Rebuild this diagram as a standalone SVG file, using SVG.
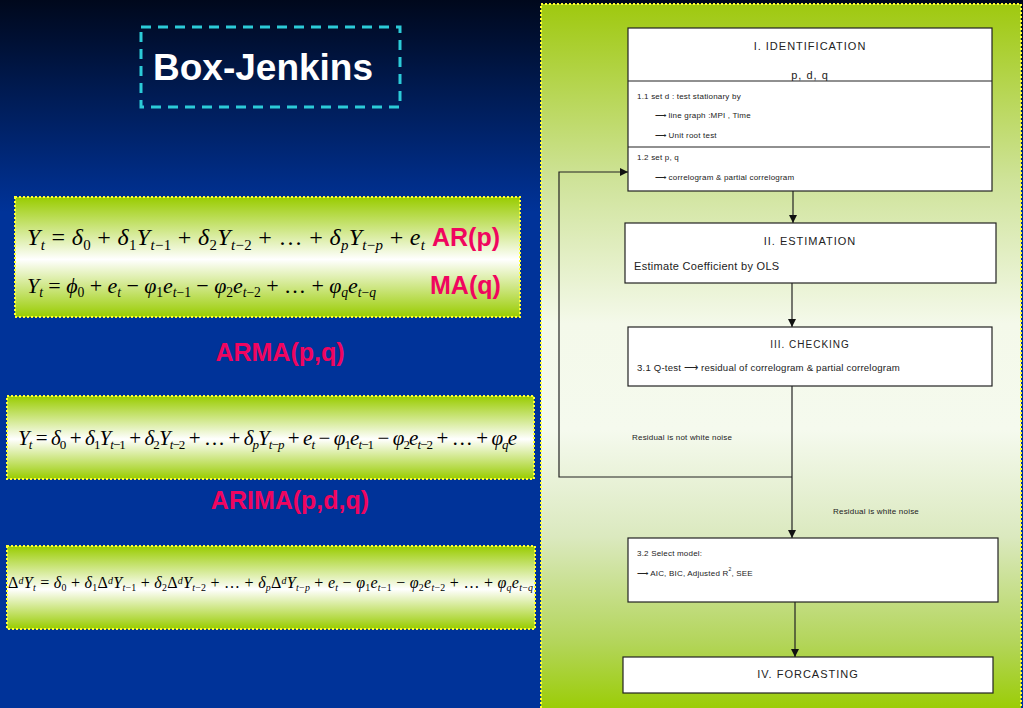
<svg xmlns="http://www.w3.org/2000/svg" width="1023" height="708" viewBox="0 0 1023 708">
<defs>
<linearGradient id="bg" x1="0" y1="0" x2="0" y2="1">
<stop offset="0" stop-color="#00081c"/>
<stop offset="0.3" stop-color="#003399"/>
<stop offset="1" stop-color="#003399"/>
</linearGradient>
<linearGradient id="pan" x1="0" y1="0" x2="0" y2="1">
<stop offset="0" stop-color="#9fc90f"/>
<stop offset="0.25" stop-color="#cfe39a"/>
<stop offset="0.45" stop-color="#f4f9ea"/>
<stop offset="0.6" stop-color="#f5faee"/>
<stop offset="0.75" stop-color="#dbe9bf"/>
<stop offset="0.9" stop-color="#b3d55a"/>
<stop offset="1" stop-color="#99cc00"/>
</linearGradient>
<linearGradient id="fb" x1="0" y1="0" x2="0" y2="1">
<stop offset="0" stop-color="#99cc00"/>
<stop offset="0.52" stop-color="#ffffff"/>
<stop offset="1" stop-color="#99cc00"/>
</linearGradient>
<marker id="ah" viewBox="0 0 8 8" refX="8" refY="4" markerWidth="8" markerHeight="8" markerUnits="userSpaceOnUse" orient="auto">
<path d="M0,0 L8,4 L0,8 Z" fill="#111"/>
</marker>
<style>
.fbox{fill:url(#fb);stroke:#ffff33;stroke-width:2;stroke-dasharray:2 2}
.m{font-family:"Liberation Serif","Times New Roman",serif;font-style:italic;fill:#000}
.u{font-style:normal}
.s{font-size:62%;baseline-shift:-32%}
.p{font-size:62%;baseline-shift:45%}
.lbl{font-family:"Liberation Sans",Arial,sans-serif;font-weight:bold;fill:#f0055f}
.node rect{fill:#fff;stroke:#222;stroke-width:1.2}
.t{font-family:"Liberation Sans",Arial,sans-serif;fill:#222}
.h{font-size:11px;letter-spacing:1px;text-anchor:middle}
.sm{font-size:8px;letter-spacing:0.2px}
.md{font-size:9.6px;letter-spacing:0.2px}
.edge{fill:none;stroke:#222;stroke-width:1.2}
</style>
</defs>
<rect width="1023" height="708" fill="url(#bg)"/>

<g id="title">
<rect x="141" y="27" width="259" height="80" fill="none" stroke="#2ccbd8" stroke-width="3" stroke-dasharray="10 7"/>
<text x="153" y="80" font-family="Liberation Sans,Arial,sans-serif" font-weight="bold" font-size="37" fill="#ffffff">Box-Jenkins</text>
</g>

<g id="formula-ar-ma">
<rect class="fbox" x="15" y="197" width="505" height="120"/>
<text class="m" x="27" y="245" font-size="24" textLength="398" lengthAdjust="spacing">Y<tspan class="s">t</tspan><tspan class="u"> = </tspan>δ<tspan class="s u">0</tspan><tspan class="u"> + </tspan>δ<tspan class="s u">1</tspan>Y<tspan class="s">t<tspan class="u">−1</tspan></tspan><tspan class="u"> + </tspan>δ<tspan class="s u">2</tspan>Y<tspan class="s">t<tspan class="u">−2</tspan></tspan><tspan class="u"> + … + </tspan>δ<tspan class="s">p</tspan>Y<tspan class="s">t<tspan class="u">−</tspan>p</tspan><tspan class="u"> + </tspan>e<tspan class="s">t</tspan></text>
<text class="lbl" x="432" y="246" font-size="25">AR(p)</text>
<text class="m" x="27" y="293" font-size="22" textLength="349" lengthAdjust="spacing">Y<tspan class="s">t</tspan><tspan class="u"> = </tspan>ϕ<tspan class="s u">0</tspan><tspan class="u"> + </tspan>e<tspan class="s">t</tspan><tspan class="u"> − </tspan>φ<tspan class="s u">1</tspan>e<tspan class="s">t<tspan class="u">−1</tspan></tspan><tspan class="u"> − </tspan>φ<tspan class="s u">2</tspan>e<tspan class="s">t<tspan class="u">−2</tspan></tspan><tspan class="u"> + … + </tspan>φ<tspan class="s">q</tspan>e<tspan class="s">t<tspan class="u">−</tspan>q</tspan></text>
<text class="lbl" x="430" y="294" font-size="25">MA(q)</text>
</g>

<g id="arma">
<text class="lbl" x="280" y="361" font-size="25" text-anchor="middle">ARMA(p,q)</text>
</g>

<g id="formula-arma">
<rect class="fbox" x="7" y="396" width="527" height="83"/>
<text class="m" x="18" y="445" font-size="21" textLength="499" lengthAdjust="spacing">Y<tspan class="s">t</tspan><tspan class="u"> = </tspan>δ<tspan class="s u">0</tspan><tspan class="u"> + </tspan>δ<tspan class="s u">1</tspan>Y<tspan class="s">t<tspan class="u">−1</tspan></tspan><tspan class="u"> + </tspan>δ<tspan class="s u">2</tspan>Y<tspan class="s">t<tspan class="u">−2</tspan></tspan><tspan class="u"> + … + </tspan>δ<tspan class="s">p</tspan>Y<tspan class="s">t<tspan class="u">−</tspan>p</tspan><tspan class="u"> + </tspan>e<tspan class="s">t</tspan><tspan class="u"> − </tspan>φ<tspan class="s u">1</tspan>e<tspan class="s">t<tspan class="u">−1</tspan></tspan><tspan class="u"> − </tspan>φ<tspan class="s u">2</tspan>e<tspan class="s">t<tspan class="u">−2</tspan></tspan><tspan class="u"> + … + </tspan>φ<tspan class="s">q</tspan>e</text>
</g>

<g id="arima">
<text class="lbl" x="290" y="509" font-size="25" text-anchor="middle">ARIMA(p,d,q)</text>
</g>

<g id="formula-arima">
<rect class="fbox" x="7" y="546" width="528" height="83"/>
<text class="m" x="8" y="588" font-size="16" textLength="525" lengthAdjust="spacing"><tspan class="u">Δ</tspan><tspan class="p">d</tspan>Y<tspan class="s">t</tspan><tspan class="u"> = </tspan>δ<tspan class="s u">0</tspan><tspan class="u"> + </tspan>δ<tspan class="s u">1</tspan><tspan class="u">Δ</tspan><tspan class="p">d</tspan>Y<tspan class="s">t<tspan class="u">−1</tspan></tspan><tspan class="u"> + </tspan>δ<tspan class="s u">2</tspan><tspan class="u">Δ</tspan><tspan class="p">d</tspan>Y<tspan class="s">t<tspan class="u">−2</tspan></tspan><tspan class="u"> + … + </tspan>δ<tspan class="s">p</tspan><tspan class="u">Δ</tspan><tspan class="p">d</tspan>Y<tspan class="s">t<tspan class="u">−</tspan>p</tspan><tspan class="u"> + </tspan>e<tspan class="s">t</tspan><tspan class="u"> − </tspan>φ<tspan class="s u">1</tspan>e<tspan class="s">t<tspan class="u">−1</tspan></tspan><tspan class="u"> − </tspan>φ<tspan class="s u">2</tspan>e<tspan class="s">t<tspan class="u">−2</tspan></tspan><tspan class="u"> + … + </tspan>φ<tspan class="s">q</tspan>e<tspan class="s">t<tspan class="u">−</tspan>q</tspan></text>
</g>

<g id="panel">
<rect x="541" y="4" width="480" height="710" fill="url(#pan)" stroke="#ffff33" stroke-width="2" stroke-dasharray="2 2"/>
</g>

<g id="connectors">
<line class="edge" x1="793" y1="191" x2="793" y2="223" marker-end="url(#ah)"/>
<line class="edge" x1="792" y1="283" x2="792" y2="327" marker-end="url(#ah)"/>
<line class="edge" x1="792" y1="386" x2="792" y2="538" marker-end="url(#ah)"/>
<polyline class="edge" points="792,477 559,477 559,172 628,172" marker-end="url(#ah)"/>
<line class="edge" x1="795" y1="602" x2="795" y2="657" marker-end="url(#ah)"/>
<text class="t sm" x="632" y="440">Residual is not white noise</text>
<text class="t sm" x="833" y="514">Residual is white noise</text>
</g>

<g id="n-identification" class="node">
<rect x="628" y="28" width="364" height="163"/>
<line x1="628" y1="81" x2="992" y2="81" stroke="#222" stroke-width="1.2"/>
<line x1="628" y1="147" x2="990" y2="147" stroke="#222" stroke-width="1.2"/>
<text class="t h" x="810" y="50">I. IDENTIFICATION</text>
<text class="t h" x="810" y="79">p, d, q</text>
<text class="t sm" x="637" y="99">1.1 set d : test stationary by</text>
<text class="t sm" x="655" y="118">⟶ line graph :MPI , Time</text>
<text class="t sm" x="655" y="138">⟶ Unit root test</text>
<text class="t sm" x="637" y="160">1.2 set p, q</text>
<text class="t sm" x="655" y="180">⟶ correlogram &amp; partial correlogram</text>
</g>

<g id="n-estimation" class="node">
<rect x="625" y="223" width="371" height="60"/>
<text class="t h" x="810" y="245">II. ESTIMATION</text>
<text class="t" x="634" y="270" font-size="11" letter-spacing="0.3">Estimate Coefficient by OLS</text>
</g>

<g id="n-checking" class="node">
<rect x="628" y="327" width="364" height="59"/>
<text class="t h" x="810" y="348" style="font-size:10px">III. CHECKING</text>
<text class="t md" x="637" y="371">3.1 Q-test ⟶ residual of correlogram &amp; partial correlogram</text>
</g>

<g id="n-select" class="node">
<rect x="628" y="538" width="370" height="64"/>
<text class="t sm" x="637" y="556">3.2 Select model:</text>
<text class="t sm" x="637" y="576">⟶ AIC, BIC, Adjusted R<tspan font-size="5" baseline-shift="5">2</tspan>, SEE</text>
</g>

<g id="n-forecasting" class="node">
<rect x="623" y="657" width="370" height="36"/>
<text class="t h" x="808" y="678">IV. FORCASTING</text>
</g>
</svg>
